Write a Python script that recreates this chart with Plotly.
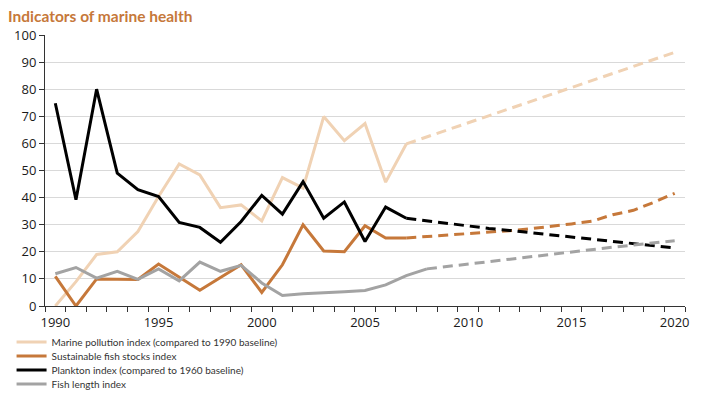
import plotly.graph_objects as go

years = list(range(1990, 2008))
proj_years = list(range(2007, 2021))
grey_years = list(range(1990, 2009))
grey_proj_years = list(range(2008, 2021))

pollution = [0, 9, 19, 20, 27.5, 40.4, 52.4, 48.4, 36.3, 37.3, 31.4, 47.4, 43.5,
             69.9, 61, 67.3, 45.7, 59.8]
pollution_proj = [59.8, 62.4, 65.0, 67.6, 70.2, 72.8, 75.4, 78.0, 80.6, 83.2,
                  85.8, 88.4, 91.0, 93.6]

fish_stocks = [10.9, 0, 10, 10, 9.8, 15.5, 10.5, 5.8, 10.5, 15.2, 5.0, 15.2, 30,
               20.3, 20, 29.6, 25.1, 25.1]
fish_stocks_proj = [25.1, 25.6, 26.2, 26.7, 27.2, 27.8, 28.5, 29.3, 30.3, 31.3,
                    33.7, 35.3, 38.3, 41.6]

plankton = [74.8, 39.2, 80, 49, 42.9, 40.4, 30.8, 29, 23.5, 31.2, 40.8, 33.9,
            45.9, 32.4, 38.4, 23.8, 36.5, 32.4]
plankton_proj = [32.4, 31.4, 30.4, 29.5, 28.6, 27.9, 27.1, 26.3, 25.5, 24.6,
                 23.8, 23.0, 22.2, 21.4]

fish_length = [11.9, 14.2, 10.3, 12.8, 9.8, 13.7, 9.3, 16.2, 12.8, 15.0, 8.5,
               3.9, 4.5, 5.0, 5.3, 5.7, 7.8, 11.2, 13.7]
fish_length_proj = [13.7, 14.6, 15.6, 16.5, 17.4, 18.3, 19.2, 20.0, 20.9, 21.7,
                    22.5, 23.3, 24.1]

x_labels = [1990, 1995, 2000, 2005, 2010, 2015, 2020]

PEACH = "#f0d2b4"
ORANGE = "#c6783a"
BLACK = "#000000"
GREY = "#a3a3a3"
DASH = "10px,6px"
H = 401

series = [
    ("Marine pollution index (compared to 1990 baseline)", years, pollution, proj_years, pollution_proj, PEACH),
    ("Sustainable fish stocks index", years, fish_stocks, proj_years, fish_stocks_proj, ORANGE),
    ("Plankton index (compared to 1960 baseline)", years, plankton, proj_years, plankton_proj, BLACK),
    ("Fish length index", grey_years, fish_length, grey_proj_years, fish_length_proj, GREY),
]
# one small legend per entry so the rows sit closer than plotly's default spacing
# (the page body adds an 8px offset, so positions are shifted up/left by that much)
legend_rows = [334, 348, 362, 376]

fig = go.Figure()
legend_layout = {}
for i, (name, xs, ys, pxs, pys, color) in enumerate(series):
    key = "legend" if i == 0 else f"legend{i + 1}"
    fig.add_trace(go.Scatter(x=xs, y=ys, mode="lines", name=name, legend=key,
                             line=dict(color=color, width=3)))
    fig.add_trace(go.Scatter(x=pxs, y=pys, mode="lines", showlegend=False,
                             line=dict(color=color, width=3, dash=DASH)))
    legend_layout[key] = dict(x=0.005, xref="container", xanchor="left",
                              y=1 - legend_rows[i] / H, yref="container",
                              yanchor="middle",
                              font=dict(family="Lato", size=10, color="#333333"),
                              bgcolor="rgba(0,0,0,0)", borderwidth=0)

fig.update_layout(
    width=712,
    height=H,
    margin=dict(l=37, r=35, t=27, b=103, autoexpand=False),
    plot_bgcolor="white",
    paper_bgcolor="white",
    font=dict(family="Open Sans", size=13, color="#1a1a1a"),
    title=dict(text="<b>Indicators of marine health</b>", x=0, xref="container",
               y=1 - 9 / H, yref="container", xanchor="left", yanchor="middle",
               font=dict(family="Lato", size=15.5, color="#c6783a")),
    showlegend=True,
    **legend_layout,
)
fig.update_xaxes(range=[1989.5, 2020.5], tickvals=x_labels, ticks="",
                 ticklabelstandoff=4,
                 showgrid=False, showline=True, linecolor="#333333", linewidth=1,
                 minor=dict(tick0=1989.5, dtick=1, ticks="outside", ticklen=5,
                            tickcolor="#333333", showgrid=False),
                 zeroline=False, fixedrange=True)
fig.update_yaxes(range=[0, 100], dtick=10, ticks="outside", ticklen=5,
                 tickcolor="#333333", showgrid=True, gridcolor="#d9d9d9",
                 gridwidth=1, showline=True, linecolor="#333333", linewidth=1,
                 zeroline=False, fixedrange=True)

fig.write_html("out.html")
